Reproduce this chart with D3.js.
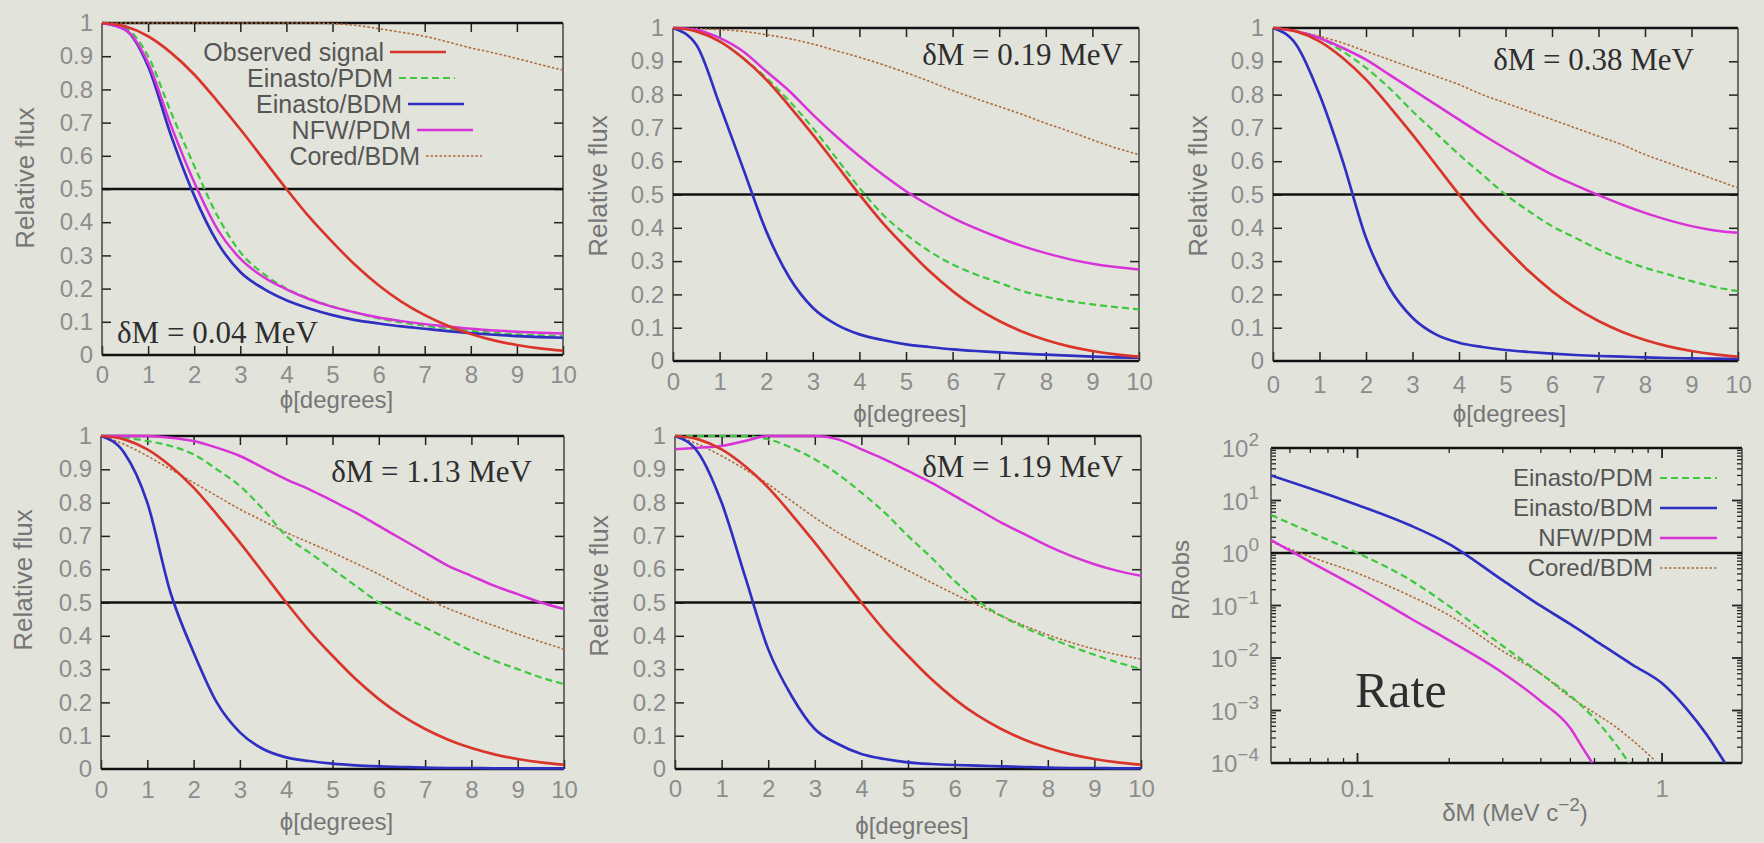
<!DOCTYPE html>
<html>
<head>
<meta charset="utf-8">
<script src="https://cdn.jsdelivr.net/npm/d3@7"></script>
<style>
  html, body { margin: 0; padding: 0; background: #e2e4dc; }
  svg { display: block; }
</style>
</head>
<body>
<svg id="fig" width="1764" height="843"></svg>
<script>
// ---------- angular profiles: relative flux vs angle phi (degrees) ----------
const phi = [0, 0.5, 1, 1.5, 2, 2.5, 3, 3.5, 4, 4.5, 5, 5.5, 6, 6.5, 7, 7.5, 8, 8.5, 9, 9.5, 10];

// observed 511 keV signal (same in every panel)
const observed = [1.00, 0.99, 0.96, 0.91, 0.845, 0.765, 0.68, 0.59, 0.50, 0.415, 0.34, 0.27, 0.21, 0.16, 0.12, 0.088, 0.063, 0.044, 0.03, 0.02, 0.013];

// dM = 0.04 MeV
const einPdm004   = [1.00, 0.985, 0.90, 0.73, 0.57, 0.42, 0.31, 0.245, 0.20, 0.17, 0.146, 0.127, 0.11, 0.098, 0.088, 0.08, 0.073, 0.067, 0.062, 0.059, 0.057];
const einBdm004   = [1.00, 0.98, 0.87, 0.66, 0.48, 0.34, 0.25, 0.20, 0.165, 0.14, 0.12, 0.105, 0.095, 0.086, 0.079, 0.072, 0.066, 0.061, 0.057, 0.054, 0.052];
const nfwPdm004   = [1.00, 0.98, 0.88, 0.69, 0.52, 0.38, 0.29, 0.235, 0.198, 0.168, 0.145, 0.128, 0.113, 0.102, 0.093, 0.086, 0.079, 0.074, 0.07, 0.067, 0.065];
const coredBdm004 = [1.00, 1.00, 1.00, 1.00, 1.00, 1.00, 1.00, 1.00, 1.00, 1.00, 0.998, 0.993, 0.983, 0.972, 0.96, 0.943, 0.925, 0.91, 0.893, 0.875, 0.858];

// dM = 0.19 MeV
const einPdm019   = [1.00, 0.99, 0.96, 0.91, 0.85, 0.78, 0.70, 0.61, 0.52, 0.44, 0.38, 0.33, 0.29, 0.26, 0.235, 0.21, 0.193, 0.18, 0.17, 0.162, 0.155];
const einBdm019   = [1.00, 0.95, 0.77, 0.58, 0.39, 0.25, 0.16, 0.11, 0.08, 0.063, 0.05, 0.042, 0.035, 0.03, 0.026, 0.022, 0.019, 0.016, 0.013, 0.011, 0.01];
const nfwPdm019   = [1.00, 0.995, 0.97, 0.93, 0.87, 0.81, 0.74, 0.675, 0.615, 0.56, 0.51, 0.467, 0.43, 0.398, 0.37, 0.345, 0.324, 0.306, 0.292, 0.282, 0.275];
const coredBdm019 = [1.00, 0.998, 0.995, 0.99, 0.98, 0.968, 0.952, 0.932, 0.912, 0.89, 0.866, 0.84, 0.812, 0.788, 0.764, 0.74, 0.714, 0.69, 0.664, 0.64, 0.62];

// dM = 0.38 MeV
const einPdm038   = [1.00, 0.99, 0.97, 0.93, 0.88, 0.82, 0.75, 0.685, 0.62, 0.56, 0.50, 0.45, 0.405, 0.37, 0.335, 0.305, 0.28, 0.26, 0.24, 0.222, 0.21];
const einBdm038   = [1.00, 0.95, 0.80, 0.60, 0.37, 0.22, 0.13, 0.08, 0.055, 0.042, 0.033, 0.027, 0.022, 0.018, 0.015, 0.013, 0.011, 0.009, 0.008, 0.007, 0.006];
const nfwPdm038   = [1.00, 0.99, 0.97, 0.94, 0.905, 0.86, 0.815, 0.77, 0.725, 0.68, 0.638, 0.598, 0.56, 0.528, 0.498, 0.47, 0.445, 0.423, 0.405, 0.392, 0.385];
const coredBdm038 = [1.00, 0.99, 0.975, 0.955, 0.93, 0.905, 0.88, 0.855, 0.83, 0.80, 0.775, 0.75, 0.725, 0.70, 0.675, 0.65, 0.62, 0.595, 0.57, 0.545, 0.52];

// dM = 1.13 MeV
const einPdm113   = [1.00, 0.995, 0.985, 0.97, 0.945, 0.90, 0.85, 0.78, 0.70, 0.65, 0.60, 0.55, 0.50, 0.46, 0.425, 0.39, 0.355, 0.325, 0.30, 0.275, 0.255];
const einBdm113   = [1.00, 0.95, 0.80, 0.53, 0.35, 0.20, 0.11, 0.06, 0.035, 0.024, 0.016, 0.011, 0.008, 0.006, 0.004, 0.003, 0.003, 0.002, 0.002, 0.002, 0.002];
const nfwPdm113   = [1.00, 1.00, 1.00, 0.995, 0.985, 0.965, 0.94, 0.905, 0.87, 0.84, 0.805, 0.77, 0.73, 0.69, 0.65, 0.61, 0.58, 0.55, 0.525, 0.50, 0.48];
const coredBdm113 = [1.00, 0.975, 0.94, 0.90, 0.86, 0.82, 0.78, 0.745, 0.71, 0.68, 0.65, 0.618, 0.585, 0.548, 0.513, 0.482, 0.455, 0.43, 0.405, 0.382, 0.36];

// dM = 1.19 MeV
const einPdm119   = [1.00, 1.00, 1.00, 1.00, 0.99, 0.965, 0.93, 0.885, 0.83, 0.77, 0.70, 0.635, 0.565, 0.505, 0.46, 0.425, 0.395, 0.368, 0.343, 0.32, 0.30];
const einBdm119   = [1.00, 0.95, 0.80, 0.58, 0.36, 0.22, 0.12, 0.075, 0.045, 0.03, 0.02, 0.015, 0.012, 0.01, 0.008, 0.006, 0.004, 0.003, 0.003, 0.002, 0.002];
const nfwPdm119   = [0.96, 0.965, 0.97, 0.985, 1.00, 1.00, 1.00, 0.99, 0.96, 0.93, 0.895, 0.86, 0.82, 0.78, 0.74, 0.705, 0.67, 0.64, 0.615, 0.595, 0.58];
const coredBdm119 = [1.00, 0.975, 0.94, 0.90, 0.855, 0.805, 0.755, 0.71, 0.67, 0.632, 0.596, 0.56, 0.525, 0.492, 0.46, 0.43, 0.403, 0.38, 0.36, 0.343, 0.33];

// ---------- rate ratio R/Robs vs mass splitting dM ----------
const rateEinPdmX   = [0.052, 0.07, 0.1, 0.15, 0.2, 0.3, 0.4, 0.5, 0.6, 0.7, 0.78];
const rateEinPdm    = [5.3, 2.48, 1.0, 0.3, 0.097, 0.017, 0.005, 0.0019, 0.0007, 0.00024, 0.0001];
const rateEinBdmX   = [0.052, 0.07, 0.1, 0.15, 0.2, 0.3, 0.4, 0.5, 0.6, 0.8, 1.0, 1.2, 1.4, 1.61];
const rateEinBdm    = [30, 16.9, 8.2, 3.3, 1.48, 0.3, 0.098, 0.044, 0.022, 0.0074, 0.0033, 0.0011, 0.00035, 0.0001];
const rateNfwPdmX   = [0.052, 0.07, 0.1, 0.15, 0.2, 0.3, 0.4, 0.5, 0.55, 0.59];
const rateNfwPdm    = [1.77, 0.68, 0.22, 0.056, 0.0216, 0.0052, 0.0015, 0.00046, 0.00019, 0.0001];
const rateCoredBdmX = [0.052, 0.07, 0.1, 0.15, 0.2, 0.3, 0.4, 0.5, 0.6, 0.7, 0.8, 0.95];
const rateCoredBdm  = [1.64, 0.85, 0.41, 0.15, 0.065, 0.0135, 0.005, 0.0018, 0.0009, 0.0005, 0.00027, 0.00011];

// ---------- labels ----------
const xTickVals = [0, 1, 2, 3, 4, 5, 6, 7, 8, 9, 10];
const yTickVals = [0, 0.1, 0.2, 0.3, 0.4, 0.5, 0.6, 0.7, 0.8, 0.9, 1];
const panelTitles = ["\u03B4M = 0.04 MeV", "\u03B4M = 0.19 MeV", "\u03B4M = 0.38 MeV", "\u03B4M = 1.13 MeV", "\u03B4M = 1.19 MeV"];
const legendNames = ["Observed signal", "Einasto/PDM", "Einasto/BDM", "NFW/PDM", "Cored/BDM"];
const rateLegendNames = ["Einasto/PDM", "Einasto/BDM", "NFW/PDM", "Cored/BDM"];
const rateDecades = [-4, -3, -2, -1, 0, 1, 2];
const rateXLabels = [0.1, 1];

// ---------- styling ----------
const SANS = "'Liberation Sans', Arial, Helvetica, sans-serif";
const SERIF = "'Liberation Serif', 'Times New Roman', serif";
const TICK_TEXT = "#8d8d8d";
const AXIS_TEXT = "#767676";
const LEGEND_TEXT = "#555";

const lineStyle = {
  observed: { color: "#d9352b", width: 2.7, dash: null },
  einPdm:   { color: "#3ec83e", width: 2.2, dash: "7,4" },
  einBdm:   { color: "#2f2fc2", width: 2.7, dash: null },
  nfwPdm:   { color: "#d832d8", width: 2.5, dash: null },
  coredBdm: { color: "#b06a3c", width: 1.6, dash: "2.5,2" }
};

const svg = d3.select("#fig");
const defs = svg.append("defs");

function styled(sel, st) {
  sel.attr("fill", "none").attr("stroke", st.color).attr("stroke-width", st.width)
     .attr("stroke-linejoin", "round").attr("stroke-linecap", "butt");
  if (st.dash) sel.attr("stroke-dasharray", st.dash);
  return sel;
}

// ---------- linear flux panels ----------
const fluxPanels = [
  { box: { x: 102, y: 23, w: 461, h: 332 }, title: panelTitles[0], titleAt: { x: 117, y: 343, anchor: "start" },
    tickDy: 20, xlabY: 400, ylabX: 25, ylabY: 178,
    series: { coredBdm: coredBdm004, einPdm: einPdm004, einBdm: einBdm004, nfwPdm: nfwPdm004, observed: observed },
    legend: true },
  { box: { x: 673, y: 28, w: 466, h: 333 }, title: panelTitles[1], titleAt: { x: 1123, y: 65, anchor: "end" },
    tickDy: 21, xlabY: 414, ylabX: 598, ylabY: 186,
    series: { coredBdm: coredBdm019, einPdm: einPdm019, nfwPdm: nfwPdm019, einBdm: einBdm019, observed: observed } },
  { box: { x: 1273, y: 28, w: 465, h: 333 }, title: panelTitles[2], titleAt: { x: 1694, y: 70, anchor: "end" },
    tickDy: 24, xlabY: 414, ylabX: 1198, ylabY: 186,
    series: { coredBdm: coredBdm038, einPdm: einPdm038, nfwPdm: nfwPdm038, einBdm: einBdm038, observed: observed } },
  { box: { x: 101, y: 436, w: 463, h: 333 }, title: panelTitles[3], titleAt: { x: 532, y: 482, anchor: "end" },
    tickDy: 21, xlabY: 822, ylabX: 23, ylabY: 580,
    series: { coredBdm: coredBdm113, einPdm: einPdm113, nfwPdm: nfwPdm113, einBdm: einBdm113, observed: observed } },
  { box: { x: 675, y: 436, w: 466, h: 333 }, title: panelTitles[4], titleAt: { x: 1123, y: 477, anchor: "end" },
    tickDy: 20, xlabY: 826, ylabX: 599, ylabY: 586,
    series: { coredBdm: coredBdm119, einPdm: einPdm119, nfwPdm: nfwPdm119, einBdm: einBdm119, observed: observed } }
];

function frameBox(g, b, ref) {
  // thick top/bottom, thin sides
  g.append("line").attr("x1", b.x).attr("x2", b.x + b.w).attr("y1", b.y).attr("y2", b.y)
    .attr("stroke", "#111").attr("stroke-width", 2.3);
  g.append("line").attr("x1", b.x).attr("x2", b.x + b.w).attr("y1", b.y + b.h).attr("y2", b.y + b.h)
    .attr("stroke", "#111").attr("stroke-width", 2.3);
  g.append("line").attr("x1", b.x).attr("x2", b.x).attr("y1", b.y).attr("y2", b.y + b.h)
    .attr("stroke", "#3a3a3a").attr("stroke-width", 1.4);
  g.append("line").attr("x1", b.x + b.w).attr("x2", b.x + b.w).attr("y1", b.y).attr("y2", b.y + b.h)
    .attr("stroke", "#3a3a3a").attr("stroke-width", 1.4);
  // reference line
  g.append("line").attr("x1", b.x).attr("x2", b.x + b.w).attr("y1", ref).attr("y2", ref)
    .attr("stroke", "#111").attr("stroke-width", 2.3);
}

function styleAxis(ax, size) {
  ax.select(".domain").remove();
  ax.selectAll(".tick line").attr("stroke", "#222").attr("stroke-width", 1.5);
  ax.selectAll(".tick text").attr("fill", TICK_TEXT).attr("font-family", SANS).attr("font-size", size);
}

fluxPanels.forEach((p, i) => {
  const b = p.box;
  const g = svg.append("g");
  const x = d3.scaleLinear().domain([0, 10]).range([b.x, b.x + b.w]);
  const y = d3.scaleLinear().domain([0, 1]).range([b.y + b.h, b.y]);

  const clipId = "clip" + i;
  defs.append("clipPath").attr("id", clipId).append("rect")
    .attr("x", b.x).attr("y", b.y - 2).attr("width", b.w).attr("height", b.h + 4);

  // ticks (inward, mirrored)
  const fmt = d => (d === 0 || d === 1) ? String(d) : d3.format(".1f")(d);
  const axB = g.append("g").attr("transform", `translate(0,${b.y + b.h})`)
    .call(d3.axisBottom(x).tickValues(xTickVals).tickSize(-9).tickPadding(p.tickDy - 9).tickFormat(d3.format("d")));
  styleAxis(axB, 24);
  const axT = g.append("g").attr("transform", `translate(0,${b.y})`)
    .call(d3.axisTop(x).tickValues(xTickVals.slice(1, -1)).tickSize(-9).tickFormat(""));
  styleAxis(axT, 24);
  const axL = g.append("g").attr("transform", `translate(${b.x},0)`)
    .call(d3.axisLeft(y).tickValues(yTickVals).tickSize(-9).tickPadding(9).tickFormat(fmt));
  styleAxis(axL, 24);
  axL.selectAll(".tick line").filter(d => d === 0 || d === 1).remove();
  const axR = g.append("g").attr("transform", `translate(${b.x + b.w},0)`)
    .call(d3.axisRight(y).tickValues(yTickVals.slice(1, -1)).tickSize(-9).tickFormat(""));
  styleAxis(axR, 24);

  frameBox(g, b, y(0.5));

  // curves
  const line = d3.line().x((d, k) => x(phi[k])).y(d => y(d)).curve(d3.curveMonotoneX);
  const cg = g.append("g").attr("clip-path", `url(#${clipId})`);
  Object.entries(p.series).forEach(([key, vals]) => {
    styled(cg.append("path").attr("d", line(vals)), lineStyle[key]);
  });

  // panel title
  g.append("text").attr("x", p.titleAt.x).attr("y", p.titleAt.y).attr("text-anchor", p.titleAt.anchor)
    .attr("font-family", SERIF).attr("font-size", 31).attr("fill", "#2e2e2e").text(p.title);

  // axis titles
  g.append("text").attr("x", b.x + b.w / 2 + 4).attr("y", p.xlabY).attr("dy", "0.35em")
    .attr("text-anchor", "middle").attr("font-family", SANS).attr("font-size", 24).attr("fill", AXIS_TEXT)
    .text("\u03D5[degrees]");
  g.append("text").attr("transform", `translate(${p.ylabX},${p.ylabY}) rotate(-90)`).attr("dy", "0.35em")
    .attr("text-anchor", "middle").attr("font-family", SANS).attr("font-size", 26).attr("fill", AXIS_TEXT)
    .text("Relative flux");

  if (p.legend) {
    const keys = ["observed", "einPdm", "einBdm", "nfwPdm", "coredBdm"];
    keys.forEach((k, r) => {
      const yy = 52 + r * 26;
      const xe = 384 + r * 9;
      g.append("text").attr("x", xe).attr("y", yy).attr("dy", "0.35em").attr("text-anchor", "end")
        .attr("font-family", SANS).attr("font-size", 25).attr("fill", LEGEND_TEXT).text(legendNames[r]);
      styled(g.append("line").attr("x1", xe + 6).attr("x2", xe + 62).attr("y1", yy).attr("y2", yy), lineStyle[k]);
    });
  }
});

// ---------- log-log rate panel ----------
(function () {
  const b = { x: 1271, y: 448, w: 471, h: 315 };
  const g = svg.append("g");
  const x = d3.scaleLog().domain([0.052, 1.83]).range([b.x, b.x + b.w]);
  const y = d3.scaleLog().domain([1e-4, 1e2]).range([b.y + b.h, b.y]);

  defs.append("clipPath").attr("id", "clipRate").append("rect")
    .attr("x", b.x).attr("y", b.y).attr("width", b.w).attr("height", b.h);

  const tick = (x1, y1, x2, y2, w) => g.append("line").attr("x1", x1).attr("y1", y1).attr("x2", x2).attr("y2", y2)
    .attr("stroke", "#222").attr("stroke-width", w);

  // y ticks: decades + minor, both sides
  rateDecades.forEach(e => {
    const v = Math.pow(10, e);
    const yy = y(v);
    if (e > -4 && e < 2) { tick(b.x, yy, b.x + 10, yy, 1.8); tick(b.x + b.w, yy, b.x + b.w - 10, yy, 1.8); }
    if (e < 2) {
      for (let m = 2; m <= 9; m++) {
        const ym = y(m * v);
        tick(b.x, ym, b.x + 5, ym, 1.3); tick(b.x + b.w, ym, b.x + b.w - 5, ym, 1.3);
      }
    }
    const t = g.append("text").attr("x", b.x - 12).attr("y", yy + 9).attr("text-anchor", "end")
      .attr("font-family", SANS).attr("font-size", 24).attr("fill", TICK_TEXT);
    t.append("tspan").text("10");
    t.append("tspan").attr("dy", -11).attr("font-size", 19).text(e < 0 ? "\u2212" + (-e) : String(e));
  });

  // x ticks
  const xMinor = [0.06, 0.07, 0.08, 0.09, 0.2, 0.3, 0.4, 0.5, 0.6, 0.7, 0.8, 0.9];
  xMinor.forEach(v => { tick(x(v), b.y + b.h, x(v), b.y + b.h - 5, 1.3); tick(x(v), b.y, x(v), b.y + 5, 1.3); });
  rateXLabels.forEach(v => {
    tick(x(v), b.y + b.h, x(v), b.y + b.h - 10, 1.8); tick(x(v), b.y, x(v), b.y + 10, 1.8);
    g.append("text").attr("x", x(v)).attr("y", b.y + b.h + 26).attr("dy", "0.35em").attr("text-anchor", "middle")
      .attr("font-family", SANS).attr("font-size", 24).attr("fill", TICK_TEXT).text(String(v));
  });

  frameBox(g, b, y(1));

  const cg = g.append("g").attr("clip-path", "url(#clipRate)");
  const line = xs => d3.line().x((d, k) => x(xs[k])).y(d => y(d)).curve(d3.curveMonotoneX);
  [["coredBdm", rateCoredBdmX, rateCoredBdm], ["einPdm", rateEinPdmX, rateEinPdm],
   ["nfwPdm", rateNfwPdmX, rateNfwPdm], ["einBdm", rateEinBdmX, rateEinBdm]].forEach(([k, xs, ys]) => {
    styled(cg.append("path").attr("d", line(xs)(ys)), lineStyle[k]);
  });

  // legend
  ["einPdm", "einBdm", "nfwPdm", "coredBdm"].forEach((k, r) => {
    const yy = 478 + r * 30;
    g.append("text").attr("x", 1653).attr("y", yy).attr("dy", "0.35em").attr("text-anchor", "end")
      .attr("font-family", SANS).attr("font-size", 24).attr("fill", LEGEND_TEXT).text(rateLegendNames[r]);
    styled(g.append("line").attr("x1", 1660).attr("x2", 1717).attr("y1", yy).attr("y2", yy), lineStyle[k]);
  });

  g.append("text").attr("x", 1355).attr("y", 707).attr("font-family", SERIF).attr("font-size", 50)
    .attr("fill", "#2e2e2e").text("Rate");

  const xl = g.append("text").attr("x", 1515).attr("y", 821).attr("text-anchor", "middle")
    .attr("font-family", SANS).attr("font-size", 24).attr("fill", AXIS_TEXT);
  xl.append("tspan").text("\u03B4M (MeV c");
  xl.append("tspan").attr("dy", -10).attr("font-size", 19).text("\u22122");
  xl.append("tspan").attr("dy", 10).text(")");

  g.append("text").attr("transform", "translate(1181,580) rotate(-90)").attr("dy", "0.35em")
    .attr("text-anchor", "middle").attr("font-family", SANS).attr("font-size", 24).attr("fill", AXIS_TEXT)
    .text("R/Robs");
})();
</script>
</body>
</html>
